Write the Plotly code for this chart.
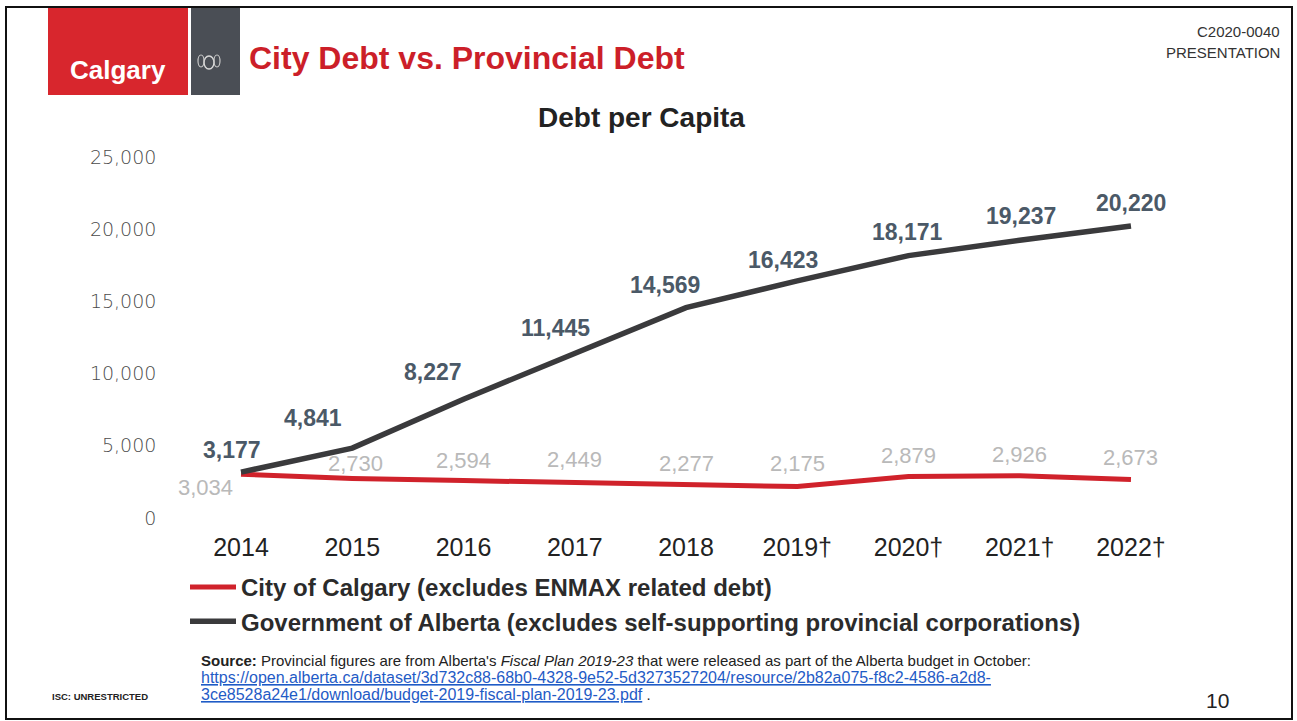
import plotly.graph_objects as go

# Debt per capita, in dollars
years = ["2014", "2015", "2016", "2017", "2018", "2019†", "2020†", "2021†", "2022†"]
city_debt = [3034, 2730, 2594, 2449, 2277, 2175, 2879, 2926, 2673]
province_debt = [3177, 4841, 8227, 11445, 14569, 16423, 18171, 19237, 20220]
y_ticks = [0, 5000, 10000, 15000, 20000, 25000]

city_name = "City of Calgary (excludes ENMAX related debt)"
province_name = "Government of Alberta (excludes self-supporting provincial corporations)"

W, H = 1297, 721
RED = "#d0222b"
CHARCOAL = "#3a3a3c"
FONT = "Liberation Sans, Arial"

# label offsets (px) relative to each point
prov_dx = [-9, -39, -31, -19, -21, -14, -1, 1, 0]
prov_dy = [22, 30, 27, 25, 23, 21, 24, 24, 23]
city_dx = [-36, 3, 0, 0, 0, 0, 0, 0, 0]
city_dy = [-13, 15, 20, 23, 22, 23, 21, 21, 22]

fig = go.Figure()
fig.add_trace(go.Scatter(x=years, y=city_debt, mode="lines", name=city_name,
                         line=dict(color=RED, width=5), legendgroup="debt"))
fig.add_trace(go.Scatter(x=years, y=province_debt, mode="lines", name=province_name,
                         line=dict(color=CHARCOAL, width=5.5), legendgroup="debt"))

ann = []
# value labels: x given as the category index
for i, v in enumerate(province_debt):
    ann.append(dict(x=i, y=v, xref="x", yref="y", text=f"<b>{v:,}</b>", showarrow=False,
                    xanchor="center", yanchor="middle",
                    xshift=prov_dx[i], yshift=prov_dy[i],
                    font=dict(family=FONT, size=23, color="#4b5967")))
for i, v in enumerate(city_debt):
    ann.append(dict(x=i, y=v, xref="x", yref="y", text=f"{v:,}", showarrow=False,
                    xanchor="center", yanchor="middle",
                    xshift=city_dx[i], yshift=city_dy[i],
                    font=dict(family=FONT, size=22, color="#b9b9b9")))


def px(x):
    return x / W


def py(y):
    return 1 - y / H


def label(x, y, text, size, color="#222", xanchor="center"):
    return dict(x=px(x), y=py(y), xref="paper", yref="paper", xanchor=xanchor,
                yanchor="middle", text=text, showarrow=False,
                font=dict(family=FONT, size=size, color=color))


# header texts
ann += [
    label(118, 70, "<b>Calgary</b>", 26, "white"),
    label(247, 58, "<b>City Debt vs. Provincial Debt</b>", 32, "#cc1f29", "left"),
    label(1282, 32, "C2020-0040", 15, "#333", "right"),
    label(1282, 53, "PRESENTATION", 15, "#333", "right"),
    label(641, 117, "<b>Debt per Capita</b>", 28, "#222"),
]

# footer texts
link_style = "color:#1f5bc6;text-decoration:underline;font-size:16px"
ann += [
    label(199, 660, "<b>Source:</b> Provincial figures are from Alberta's <i>Fiscal Plan 2019-23</i> "
                    "that were released as part of the Alberta budget in October:", 15, "#222", "left"),
    label(199, 677, f"<span style='{link_style}'>https://open.alberta.ca/dataset/3d732c88-68b0-4328-9e52-"
                    "5d3273527204/resource/2b82a075-f8c2-4586-a2d8-</span>", 15, "#222", "left"),
    label(199, 694, f"<span style='{link_style}'>3ce8528a24e1/download/budget-2019-fiscal-plan-2019-23.pdf"
                    "</span> .", 15, "#222", "left"),
    label(50, 696, "<b>ISC: UNRESTRICTED</b>", 9.5, "#222", "left"),
    label(1217, 700, "10", 21, "#222"),
]

shapes = [
    # slide frame
    dict(type="rect", xref="paper", yref="paper", x0=px(6), x1=px(1292), y0=py(719), y1=py(7),
         line=dict(color="#111", width=2)),
    # logo blocks
    dict(type="rect", xref="paper", yref="paper", x0=px(48), x1=px(188), y0=py(95), y1=py(8),
         fillcolor="#d8262d", line=dict(width=0)),
    dict(type="rect", xref="paper", yref="paper", x0=px(191), x1=px(240), y0=py(95), y1=py(8),
         fillcolor="#4a4e55", line=dict(width=0)),
    # crest
    dict(type="circle", xref="paper", yref="paper", x0=px(204), x1=px(214), y0=py(69), y1=py(56),
         line=dict(color="#d8d8d8", width=1.5)),
    dict(type="circle", xref="paper", yref="paper", x0=px(198), x1=px(204), y0=py(67), y1=py(55),
         line=dict(color="#c8c8c8", width=1.2)),
    dict(type="circle", xref="paper", yref="paper", x0=px(214), x1=px(220), y0=py(67), y1=py(55),
         line=dict(color="#c8c8c8", width=1.2)),
]

fig.update_layout(
    width=W, height=H,
    margin=dict(l=0, r=0, t=0, b=0, autoexpand=False),
    paper_bgcolor="white", plot_bgcolor="white",
    showlegend=True,
    legend=dict(x=px(185), y=py(565), xanchor="left", yanchor="top",
                font=dict(family=FONT, size=24, color="#2b2b2b", weight="bold"),
                itemwidth=46, tracegroupgap=0, bgcolor="rgba(0,0,0,0)"),
    xaxis=dict(domain=[px(185.4), px(1186.6)], range=[-0.5, 8.5], showgrid=False,
               zeroline=False, showline=False, ticks="", ticklabelstandoff=12,
               automargin=False,
               tickfont=dict(family=FONT, size=25, color="#222")),
    yaxis=dict(domain=[py(518), py(157)], range=[0, 25000], tickvals=y_ticks,
               tickformat=",d", showgrid=False, zeroline=False, showline=False, ticks="",
               ticklabelstandoff=28, automargin=False,
               tickfont=dict(family="DejaVu Sans", size=19, color="#4a4a4a", weight=300)),
    annotations=ann,
    shapes=shapes,
    hovermode=False,
)

fig.write_html("out.html", post_script="document.body.style.margin='0';")
